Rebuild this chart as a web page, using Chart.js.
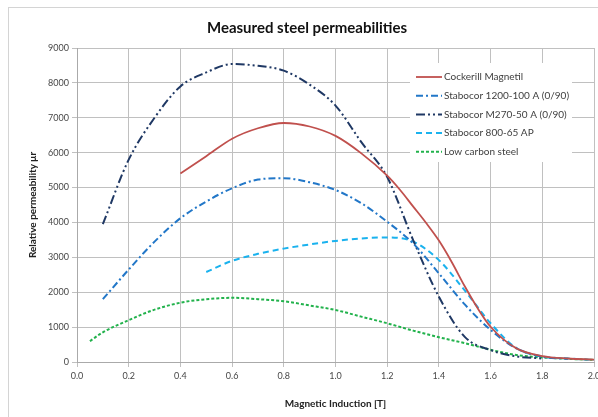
<!DOCTYPE html>
<html>
<head>
<meta charset="utf-8">
<script src="https://cdn.jsdelivr.net/npm/chart.js@4"></script>
<style>
  html, body { margin: 0; padding: 0; background: #fff; }
  #wrap { width: 598px; height: 417px; }
</style>
</head>
<body>
<div id="wrap"><canvas id="chart" width="598" height="417"></canvas></div>
<script>
// values (B in tesla, relative permeability)
const seriesLabels = ['Cockerill Magnetil', 'Stabocor 1200-100 A (0/90)', 'Stabocor M270-50 A (0/90)', 'Stabocor 800-65 AP', 'Low carbon steel'];

const cockerillB = [0.4, 0.5, 0.6, 0.7, 0.8, 0.9, 1.0, 1.1, 1.2, 1.25, 1.3, 1.35, 1.4, 1.45, 1.5, 1.55, 1.6, 1.7, 1.8, 1.9, 2.0];
const cockerillMu = [5400, 5900, 6400, 6700, 6850, 6750, 6480, 5980, 5340, 4930, 4460, 3990, 3480, 2860, 2170, 1540, 1010, 390, 170, 100, 70];

const s1200B = [0.1, 0.2, 0.3, 0.4, 0.5, 0.6, 0.7, 0.8, 0.9, 1.0, 1.1, 1.2, 1.3, 1.4, 1.5, 1.6, 1.7, 1.8, 1.9];
const s1200Mu = [1800, 2650, 3450, 4120, 4600, 4980, 5230, 5270, 5150, 4930, 4550, 4020, 3400, 2540, 1650, 920, 390, 150, 90];

const m270B = [0.1, 0.2, 0.3, 0.4, 0.5, 0.6, 0.7, 0.8, 0.9, 1.0, 1.1, 1.2, 1.3, 1.4, 1.5, 1.6, 1.7, 1.8];
const m270Mu = [3950, 5800, 7000, 7900, 8300, 8540, 8490, 8350, 7950, 7350, 6300, 5300, 3500, 1870, 720, 340, 160, 100];

const s800B = [0.5, 0.6, 0.7, 0.8, 0.9, 1.0, 1.1, 1.2, 1.3, 1.4, 1.5, 1.6, 1.7, 1.8, 1.9, 2.0];
const s800Mu = [2580, 2900, 3100, 3250, 3370, 3470, 3540, 3570, 3450, 2920, 2050, 1110, 400, 160, 100, 60];

const lowB = [0.05, 0.1, 0.2, 0.3, 0.4, 0.5, 0.6, 0.7, 0.8, 0.9, 1.0, 1.1, 1.2, 1.3, 1.4, 1.5, 1.6, 1.7, 1.8, 1.9, 2.0];
const lowMu = [600, 850, 1200, 1500, 1700, 1800, 1840, 1800, 1740, 1620, 1490, 1300, 1110, 900, 710, 540, 350, 200, 130, 90, 60];

function pts(xs, ys) {
    return xs.map((x, i) => ({ x: x, y: ys[i] }));
}

function makeSet(label, xs, ys, color, dash, width) {
    return {
        label: label,
        data: pts(xs, ys),
        borderColor: color,
        backgroundColor: color,
        borderWidth: width,
        borderDash: dash,
        pointRadius: 0,
        fill: false,
        cubicInterpolationMode: 'monotone'
    };
}

// frame round the whole chart, like the spreadsheet export
const framePlugin = {
    id: 'frame',
    beforeDraw(chart) {
        const ctx = chart.ctx;
        ctx.save();
        ctx.fillStyle = '#fff';
        ctx.fillRect(0, 0, chart.width, chart.height);
        ctx.strokeStyle = '#d4d4d4';
        ctx.lineWidth = 1;
        ctx.strokeRect(8.5, 7.5, 700, 500);
        ctx.restore();
    }
};

// legend box sitting inside the plot area
const boxLegend = {
    id: 'boxLegend',
    afterDatasetsDraw(chart) {
        const ctx = chart.ctx;
        const x0 = 410, y0 = 63, w = 162, h = 99;
        ctx.save();
        ctx.fillStyle = '#fff';
        ctx.fillRect(x0, y0, w, h);
        ctx.font = '10px Lato';
        ctx.textBaseline = 'middle';
        chart.data.datasets.forEach((ds, i) => {
            const y = 77 + i * 18.7;
            ctx.strokeStyle = ds.borderColor;
            ctx.lineWidth = ds.borderWidth;
            ctx.setLineDash(ds.borderDash || []);
            ctx.beginPath();
            ctx.moveTo(416, y);
            ctx.lineTo(442, y);
            ctx.stroke();
            ctx.setLineDash([]);
            ctx.fillStyle = '#404040';
            ctx.fillText(ds.label, 444, y);
        });
        ctx.restore();
    }
};

const ctx = document.getElementById('chart').getContext('2d');
new Chart(ctx, {
    type: 'line',
    data: {
        datasets: [
            makeSet(seriesLabels[0], cockerillB, cockerillMu, '#c0504d', [], 1.8),
            makeSet(seriesLabels[1], s1200B, s1200Mu, '#2277c8', [7, 3, 2, 3], 2),
            makeSet(seriesLabels[2], m270B, m270Mu, '#1f3864', [9, 3, 2, 3, 2, 3], 2),
            makeSet(seriesLabels[3], s800B, s800Mu, '#1ab2ee', [6, 4], 2),
            makeSet(seriesLabels[4], lowB, lowMu, '#22b24c', [3, 2], 2)
        ]
    },
    options: {
        responsive: false,
        animation: false,
        layout: { padding: { left: 20, right: 4, top: 0, bottom: 0 } },
        plugins: {
            legend: { display: false },
            tooltip: { enabled: false },
            title: {
                display: true,
                text: 'Measured steel permeabilities',
                color: '#111',
                font: { family: 'Lato', size: 15, weight: 'bold' },
                padding: { top: 19, bottom: 11 }
            }
        },
        scales: {
            x: {
                type: 'linear',
                min: 0,
                max: 2,
                afterFit: (s) => { s.height = 55; s.paddingLeft = 0; s.paddingRight = 0; },
                ticks: {
                    stepSize: 0.2,
                    padding: 4,
                    color: '#474747',
                    font: { family: 'Lato', size: 9 },
                    maxRotation: 0,
                    callback: (v) => v.toFixed(1)
                },
                grid: { color: '#c0c0c0', lineWidth: 1, tickLength: 5 },
                border: { color: '#aaaaaa' },
                title: {
                    display: true,
                    text: 'Magnetic Induction [T]',
                    color: '#222',
                    font: { family: 'Lato', size: 10, weight: 'bold' },
                    padding: { top: 0, bottom: 7 }
                }
            },
            y: {
                min: 0,
                max: 9000,
                afterFit: (s) => { s.width = 57; s.paddingTop = 0; },
                ticks: {
                    stepSize: 1000,
                    padding: 3,
                    color: '#474747',
                    font: { family: 'Lato', size: 9 },
                    callback: (v) => String(v)
                },
                grid: { color: '#c0c0c0', lineWidth: 1, tickLength: 5 },
                border: { color: '#aaaaaa' },
                title: {
                    display: true,
                    text: 'Relative permeability μr',
                    color: '#222',
                    font: { family: 'Lato', size: 10, weight: 'bold' },
                    padding: { top: 7, bottom: 0 }
                }
            }
        }
    },
    plugins: [framePlugin, boxLegend]
});
</script>
</body>
</html>
